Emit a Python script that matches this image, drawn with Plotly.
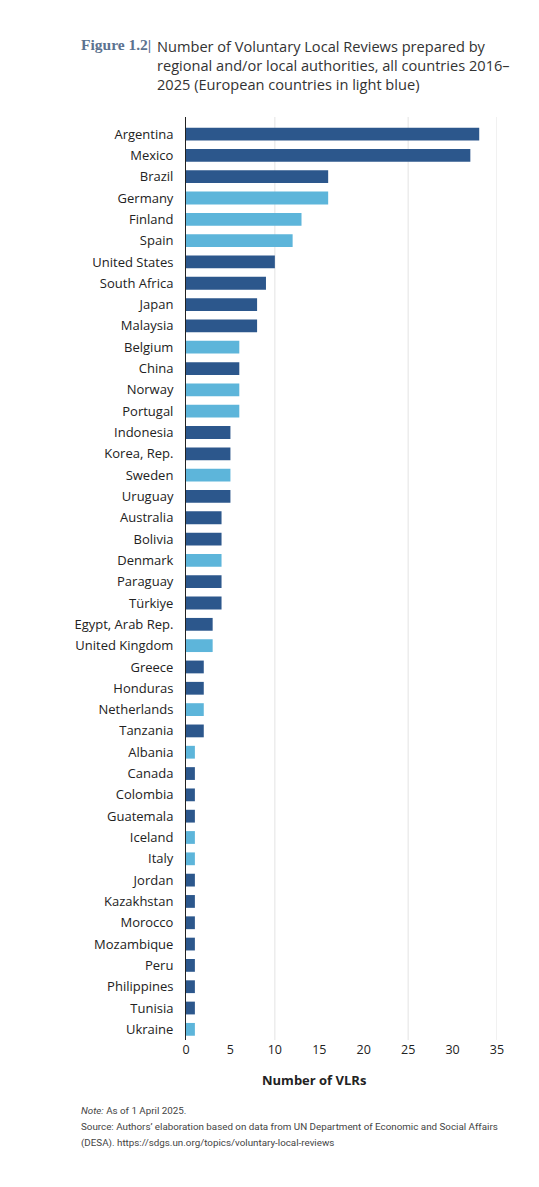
import plotly.graph_objects as go

countries = [
    "Argentina", "Mexico", "Brazil", "Germany", "Finland", "Spain",
    "United States", "South Africa", "Japan", "Malaysia", "Belgium", "China",
    "Norway", "Portugal", "Indonesia", "Korea, Rep.", "Sweden", "Uruguay",
    "Australia", "Bolivia", "Denmark", "Paraguay", "Türkiye",
    "Egypt, Arab Rep.", "United Kingdom", "Greece", "Honduras", "Netherlands",
    "Tanzania", "Albania", "Canada", "Colombia", "Guatemala", "Iceland",
    "Italy", "Jordan", "Kazakhstan", "Morocco", "Mozambique", "Peru",
    "Philippines", "Tunisia", "Ukraine",
]
vlrs = [
    33, 32, 16, 16, 13, 12,
    10, 9, 8, 8, 6, 6,
    6, 6, 5, 5, 5, 5,
    4, 4, 4, 4, 4,
    3, 3, 2, 2, 2,
    2, 1, 1, 1, 1, 1,
    1, 1, 1, 1, 1, 1,
    1, 1, 1,
]
european = [
    "Germany", "Finland", "Spain", "Belgium", "Norway", "Portugal", "Sweden",
    "Denmark", "United Kingdom", "Netherlands", "Albania", "Iceland", "Italy",
    "Ukraine",
]
x_ticks = [0, 5, 10, 15, 20, 25, 30, 35]
grid_at = [10, 25, 35]

note_lines = [
    "<i>Note:</i> As of 1 April 2025.",
    "Source: Authors’ elaboration based on data from UN Department of "
    "Economic and Social Affairs",
    "(DESA). https://sdgs.un.org/topics/voluntary-local-reviews",
]

DARK = "#2c578c"
LIGHT = "#5db5da"
colors = [LIGHT if c in european else DARK for c in countries]

# the page puts the figure 8px in from the top-left corner
OFF = 8
W, H = 539 - OFF, 1187 - OFF
L, R, T, B = 186 - OFF, 42, 117 - OFF, 147
pw, ph = W - L - R, H - T - B


def px_x(p):
    # screen pixel -> paper fraction
    return (p - OFF - L) / pw


def px_y(p):
    return (H - B - (p - OFF)) / ph


fig = go.Figure(go.Bar(
    x=vlrs, y=countries, orientation="h",
    marker=dict(color=colors, line=dict(width=0)),
    hoverinfo="x+y",
))

for g in grid_at:
    fig.add_vline(x=g, layer="below", line=dict(color="#e3e3e3", width=1))

fig.update_layout(
    width=W, height=H,
    margin=dict(l=L, r=R, t=T, b=B),
    paper_bgcolor="white", plot_bgcolor="white",
    bargap=0.4, showlegend=False,
    font=dict(family="Open Sans", size=13, color="#222"),
)
fig.update_xaxes(range=[0, 35], tickvals=x_ticks, showgrid=False,
                 zeroline=False, showline=False, ticks="",
                 tickfont=dict(size=12.5, color="#222"))
fig.update_yaxes(categoryorder="array", categoryarray=countries,
                 range=[len(countries) - 0.5, -0.8],
                 showline=True, linecolor="#222", linewidth=1,
                 showgrid=False, ticks="", ticklabelstandoff=9,
                 tickfont=dict(size=13, color="#222"))

fig.add_annotation(text="<b>Figure 1.2|</b>", xref="paper", yref="paper",
                   x=px_x(79), y=px_y(44), xanchor="left", yanchor="middle",
                   showarrow=False,
                   font=dict(family="Liberation Serif", size=15.5,
                             color="#5b7290"))
fig.add_annotation(
    text="Number of Voluntary Local Reviews prepared by<br>"
         "regional and/or local authorities, all countries 2016–<br>"
         "2025 (European countries in light blue)",
    xref="paper", yref="paper", x=px_x(155), y=px_y(34),
    xanchor="left", yanchor="top", align="left", showarrow=False,
    font=dict(family="Open Sans", size=14.6, color="#333"))

fig.add_annotation(text="<b>Number of VLRs</b>", xref="paper", yref="paper",
                   x=px_x(314), y=px_y(1080), xanchor="center",
                   yanchor="middle", showarrow=False,
                   font=dict(family="Open Sans", size=13, color="#222"))

for i, line in enumerate(note_lines):
    fig.add_annotation(
        text=line, xref="paper", yref="paper",
        x=px_x(79), y=px_y(1110 + 16.5 * i),
        xanchor="left", yanchor="middle", align="left", showarrow=False,
        font=dict(family="Roboto", size=9.8, color="#444"))

fig.write_html("out.html")
